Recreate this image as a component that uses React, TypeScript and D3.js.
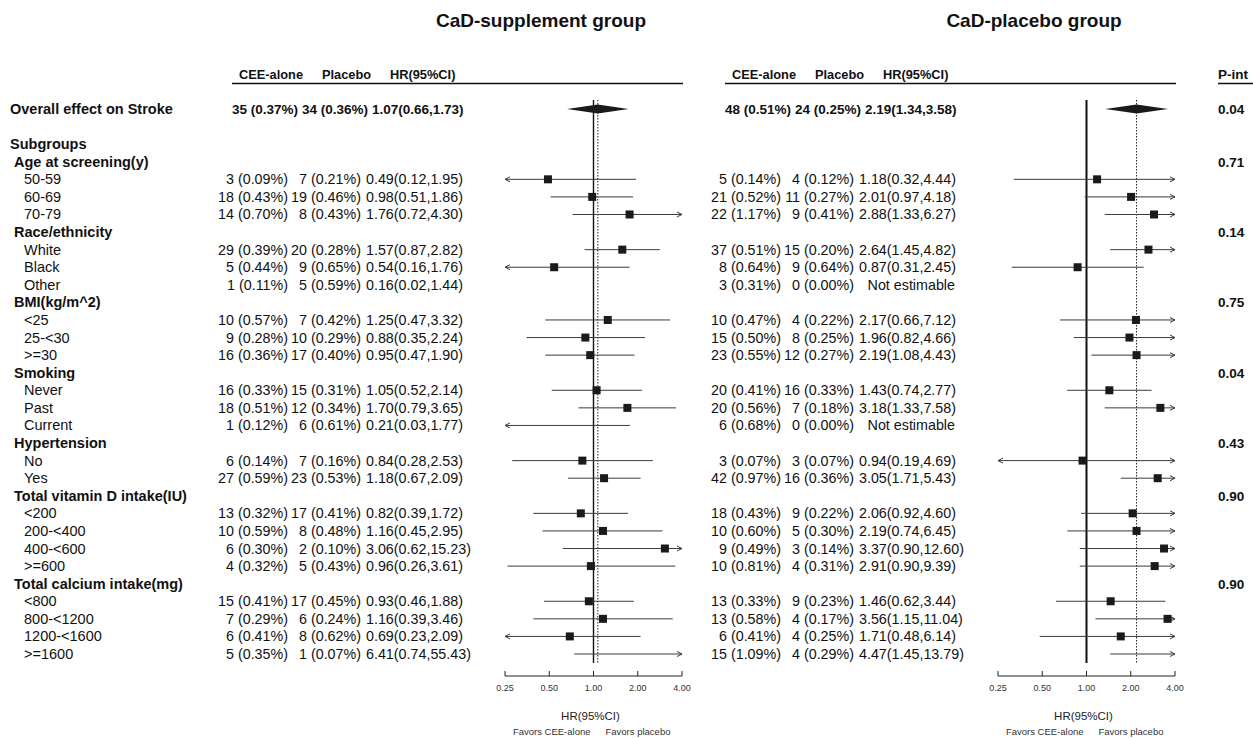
import * as d3 from "d3";

const FONT = "'Liberation Sans', Arial, Helvetica, sans-serif";

// ---- data ----
const overallLabel = "Overall effect on Stroke";
const categories = [
  "Age at screening(y)",
  "Race/ethnicity",
  "BMI(kg/m^2)",
  "Smoking",
  "Hypertension",
  "Total vitamin D intake(IU)",
  "Total calcium intake(mg)",
];
const subgroups = [
  ["50-59", "60-69", "70-79"],
  ["White", "Black", "Other"],
  ["<25", "25-<30", ">=30"],
  ["Never", "Past", "Current"],
  ["No", "Yes"],
  ["<200", "200-<400", "400-<600", ">=600"],
  ["<800", "800-<1200", "1200-<1600", ">=1600"],
];
const overallPInt = "0.04";
const pInt = ["0.71", "0.14", "0.75", "0.04", "0.43", "0.90", "0.90"];

// CaD-supplement group
const supOverallCounts = ["35 (0.37%)", "34 (0.36%)"];
const supOverall = [1.07, 0.66, 1.73];
const supCEE = [
  "3 (0.09%)", "18 (0.43%)", "14 (0.70%)",
  "29 (0.39%)", "5 (0.44%)", "1 (0.11%)",
  "10 (0.57%)", "9 (0.28%)", "16 (0.36%)",
  "16 (0.33%)", "18 (0.51%)", "1 (0.12%)",
  "6 (0.14%)", "27 (0.59%)",
  "13 (0.32%)", "10 (0.59%)", "6 (0.30%)", "4 (0.32%)",
  "15 (0.41%)", "7 (0.29%)", "6 (0.41%)", "5 (0.35%)",
];
const supPlacebo = [
  "7 (0.21%)", "19 (0.46%)", "8 (0.43%)",
  "20 (0.28%)", "9 (0.65%)", "5 (0.59%)",
  "7 (0.42%)", "10 (0.29%)", "17 (0.40%)",
  "15 (0.31%)", "12 (0.34%)", "6 (0.61%)",
  "7 (0.16%)", "23 (0.53%)",
  "17 (0.41%)", "8 (0.48%)", "2 (0.10%)", "5 (0.43%)",
  "17 (0.45%)", "6 (0.24%)", "8 (0.62%)", "1 (0.07%)",
];
const supHR = [0.49, 0.98, 1.76, 1.57, 0.54, 0.16, 1.25, 0.88, 0.95, 1.05, 1.7, 0.21, 0.84, 1.18, 0.82, 1.16, 3.06, 0.96, 0.93, 1.16, 0.69, 6.41];
const supLo = [0.12, 0.51, 0.72, 0.87, 0.16, 0.02, 0.47, 0.35, 0.47, 0.52, 0.79, 0.03, 0.28, 0.67, 0.39, 0.45, 0.62, 0.26, 0.46, 0.39, 0.23, 0.74];
const supHi = [1.95, 1.86, 4.3, 2.82, 1.76, 1.44, 3.32, 2.24, 1.9, 2.14, 3.65, 1.77, 2.53, 2.09, 1.72, 2.95, 15.23, 3.61, 1.88, 3.46, 2.09, 55.43];
// the source draws no interval for "Other" in this group
const supNotDrawn = ["Other"];

// CaD-placebo group
const pboOverallCounts = ["48 (0.51%)", "24 (0.25%)"];
const pboOverall = [2.19, 1.34, 3.58];
const pboCEE = [
  "5 (0.14%)", "21 (0.52%)", "22 (1.17%)",
  "37 (0.51%)", "8 (0.64%)", "3 (0.31%)",
  "10 (0.47%)", "15 (0.50%)", "23 (0.55%)",
  "20 (0.41%)", "20 (0.56%)", "6 (0.68%)",
  "3 (0.07%)", "42 (0.97%)",
  "18 (0.43%)", "10 (0.60%)", "9 (0.49%)", "10 (0.81%)",
  "13 (0.33%)", "13 (0.58%)", "6 (0.41%)", "15 (1.09%)",
];
const pboPlacebo = [
  "4 (0.12%)", "11 (0.27%)", "9 (0.41%)",
  "15 (0.20%)", "9 (0.64%)", "0 (0.00%)",
  "4 (0.22%)", "8 (0.25%)", "12 (0.27%)",
  "16 (0.33%)", "7 (0.18%)", "0 (0.00%)",
  "3 (0.07%)", "16 (0.36%)",
  "9 (0.22%)", "5 (0.30%)", "3 (0.14%)", "4 (0.31%)",
  "9 (0.23%)", "4 (0.17%)", "4 (0.25%)", "4 (0.29%)",
];
const pboHR = [1.18, 2.01, 2.88, 2.64, 0.87, null, 2.17, 1.96, 2.19, 1.43, 3.18, null, 0.94, 3.05, 2.06, 2.19, 3.37, 2.91, 1.46, 3.56, 1.71, 4.47];
const pboLo = [0.32, 0.97, 1.33, 1.45, 0.31, null, 0.66, 0.82, 1.08, 0.74, 1.33, null, 0.19, 1.71, 0.92, 0.74, 0.9, 0.9, 0.62, 1.15, 0.48, 1.45];
const pboHi = [4.44, 4.18, 6.27, 4.82, 2.45, null, 7.12, 4.66, 4.43, 2.77, 7.58, null, 4.69, 5.43, 4.6, 6.45, 12.6, 9.39, 3.44, 11.04, 6.14, 13.79];

const tickValues = [0.25, 0.5, 1, 2, 4];

// ---- layout ----
type Row = { kind: string; label?: string; p?: string; k?: number };
const rows: Row[] = [{ kind: "overall", label: overallLabel, p: overallPInt }, { kind: "blank" }, { kind: "title", label: "Subgroups" }];
let flat = 0;
categories.forEach((c, ci) => {
  rows.push({ kind: "cat", label: c, p: pInt[ci] });
  subgroups[ci].forEach((s) => rows.push({ kind: "item", label: s, k: flat++ }));
});

const y = d3.scaleLinear().domain([0, rows.length - 1]).range([109, 654]);
const fmt = d3.format(".2f");
const LABEL = 14.5;
const NUM = 14.3;
const BOLDNUM = 13.5;

function hrText(h: number | null, l: number | null, u: number | null) {
  if (h == null || l == null || u == null) return "Not estimable";
  return `${fmt(h)}(${fmt(l)},${fmt(u)})`;
}

type PanelProps = {
  dx: number;
  title: string;
  overallCounts: string[];
  overall: number[];
  cee: string[];
  plc: string[];
  hr: (number | null)[];
  lo: (number | null)[];
  hi: (number | null)[];
  hidden: string[];
  refWidth: number;
};

function Panel({ dx, title, overallCounts, overall, cee, plc, hr, lo, hi, hidden, refWidth }: PanelProps) {
  const x = d3.scaleLog().base(2).domain([0.25, 4]).range([505 + dx, 682 + dx]);
  const [x0, x1] = x.range();
  const col1 = 288 + dx;
  const col2 = 361 + dx;
  const col3 = 366 + dx;
  const col3End = 462 + dx;
  const lineTop = 100;
  const lineBot = 663;
  const axisY = 676;
  const ink = "#1a1a1a";
  const ciColor = "#3a3a3a";

  const ci = (h: number | null, l: number | null, u: number | null, yy: number, key: string) => {
    if (h == null || l == null || u == null) return null;
    const a = Math.max(l, 0.25);
    const b = Math.min(u, 4);
    return (
      <g key={key}>
        <line x1={x(a)} x2={x(b)} y1={yy} y2={yy} stroke={ciColor} strokeWidth={1} />
        {l < 0.25 && <path d={`M${x0 + 5},${yy - 2.5}L${x0},${yy}L${x0 + 5},${yy + 2.5}`} fill="none" stroke={ciColor} strokeWidth={1} />}
        {u > 4 && <path d={`M${x1 - 5},${yy - 2.5}L${x1},${yy}L${x1 - 5},${yy + 2.5}`} fill="none" stroke={ciColor} strokeWidth={1} />}
        {h >= 0.25 && h <= 4 && <rect x={x(h) - 4} y={yy - 4} width={8} height={8} fill={ink} />}
      </g>
    );
  };

  return (
    <g>
      <text x={541 + dx} y={27} textAnchor="middle" fontWeight="bold" fontSize={19}>{title}</text>
      <g fontWeight="bold" fontSize={12.8}>
        <text x={239 + dx} y={79}>CEE-alone</text>
        <text x={322 + dx} y={79}>Placebo</text>
        <text x={390 + dx} y={79}>HR(95%CI)</text>
      </g>
      <line x1={232 + dx} x2={x1 + 1} y1={83.5} y2={83.5} stroke="#111" strokeWidth={1.5} />

      {/* overall row */}
      <g fontWeight="bold" fontSize={BOLDNUM}>
        <text x={298 + dx} y={y(0) + 5} textAnchor="end">{overallCounts[0]}</text>
        <text x={368 + dx} y={y(0) + 5} textAnchor="end">{overallCounts[1]}</text>
        <text x={372 + dx} y={y(0) + 5}>{hrText(overall[0], overall[1], overall[2])}</text>
      </g>

      {rows.map((r, i) => {
        if (r.kind !== "item" || r.k == null) return null;
        const yy = y(i);
        const k = r.k;
        const txt = hrText(hr[k], lo[k], hi[k]);
        return (
          <g key={i} fontSize={NUM}>
            <text x={col1} y={yy + 5} textAnchor="end">{cee[k]}</text>
            <text x={col2} y={yy + 5} textAnchor="end">{plc[k]}</text>
            {hr[k] == null ? (
              <text x={col3End} y={yy + 5} textAnchor="end">{txt}</text>
            ) : (
              <text x={col3} y={yy + 5}>{txt}</text>
            )}
          </g>
        );
      })}

      {/* reference line at HR = 1 and dotted line at overall HR */}
      <line x1={x(1)} x2={x(1)} y1={lineTop} y2={lineBot} stroke="#111" strokeWidth={refWidth} />
      <line x1={x(overall[0])} x2={x(overall[0])} y1={lineTop} y2={lineBot} stroke="#222" strokeWidth={1} strokeDasharray="1.5,1.5" />

      {/* overall diamond */}
      <path
        d={`M${x(overall[1])},${y(0)}L${x(overall[0])},${y(0) - 4.5}L${x(overall[2])},${y(0)}L${x(overall[0])},${y(0) + 4.5}Z`}
        fill={ink}
      />

      {rows.map((r, i) =>
        r.kind === "item" && r.k != null && !hidden.includes(r.label || "")
          ? ci(hr[r.k], lo[r.k], hi[r.k], y(i), `ci${i}`)
          : null
      )}

      {/* axis */}
      <line x1={x0} x2={x1} y1={axisY} y2={axisY} stroke="#222" strokeWidth={1} />
      {tickValues.map((t) => (
        <g key={t}>
          <line x1={x(t)} x2={x(t)} y1={axisY} y2={axisY - 5} stroke="#222" strokeWidth={1} />
          <text x={x(t)} y={691} textAnchor="middle" fontSize={9} fill="#333">{fmt(t)}</text>
        </g>
      ))}
      <text x={x(1) - 3} y={720} textAnchor="middle" fontSize={11.5} fill="#222">HR(95%CI)</text>
      <text x={x(1) - 3} y={735} textAnchor="end" fontSize={9.5} fill="#333">Favors CEE-alone</text>
      <text x={x(1) + 12} y={735} fontSize={9.5} fill="#333">Favors placebo</text>
    </g>
  );
}

export default function App() {
  return (
    <div style={{ position: "absolute", left: 0, top: 0 }}>
      <svg width={1253} height={738} style={{ display: "block", background: "#fff" }} fontFamily={FONT} fill="#111">
        {/* row labels */}
        {rows.map((r, i) => {
          const yy = y(i) + 5;
          if (r.kind === "overall" || r.kind === "title")
            return <text key={i} x={10} y={yy} fontWeight="bold" fontSize={LABEL}>{r.label}</text>;
          if (r.kind === "cat")
            return <text key={i} x={14} y={yy} fontWeight="bold" fontSize={LABEL}>{r.label}</text>;
          if (r.kind === "item")
            return <text key={i} x={24} y={yy} fontSize={LABEL}>{r.label}</text>;
          return null;
        })}

        <Panel
          dx={0}
          title="CaD-supplement group"
          overallCounts={supOverallCounts}
          overall={supOverall}
          cee={supCEE}
          plc={supPlacebo}
          hr={supHR}
          lo={supLo}
          hi={supHi}
          hidden={supNotDrawn}
          refWidth={1.4}
        />
        <Panel
          dx={493}
          title="CaD-placebo group"
          overallCounts={pboOverallCounts}
          overall={pboOverall}
          cee={pboCEE}
          plc={pboPlacebo}
          hr={pboHR}
          lo={pboLo}
          hi={pboHi}
          hidden={[]}
          refWidth={2}
        />

        {/* P for interaction */}
        <text x={1218} y={79} fontWeight="bold" fontSize={BOLDNUM}>P-int</text>
        <line x1={1218} x2={1253} y1={83.5} y2={83.5} stroke="#111" strokeWidth={1.5} />
        {rows.map((r, i) =>
          r.p ? (
            <text key={i} x={1218} y={y(i) + 5} fontWeight="bold" fontSize={BOLDNUM}>{r.p}</text>
          ) : null
        )}
      </svg>
    </div>
  );
}
